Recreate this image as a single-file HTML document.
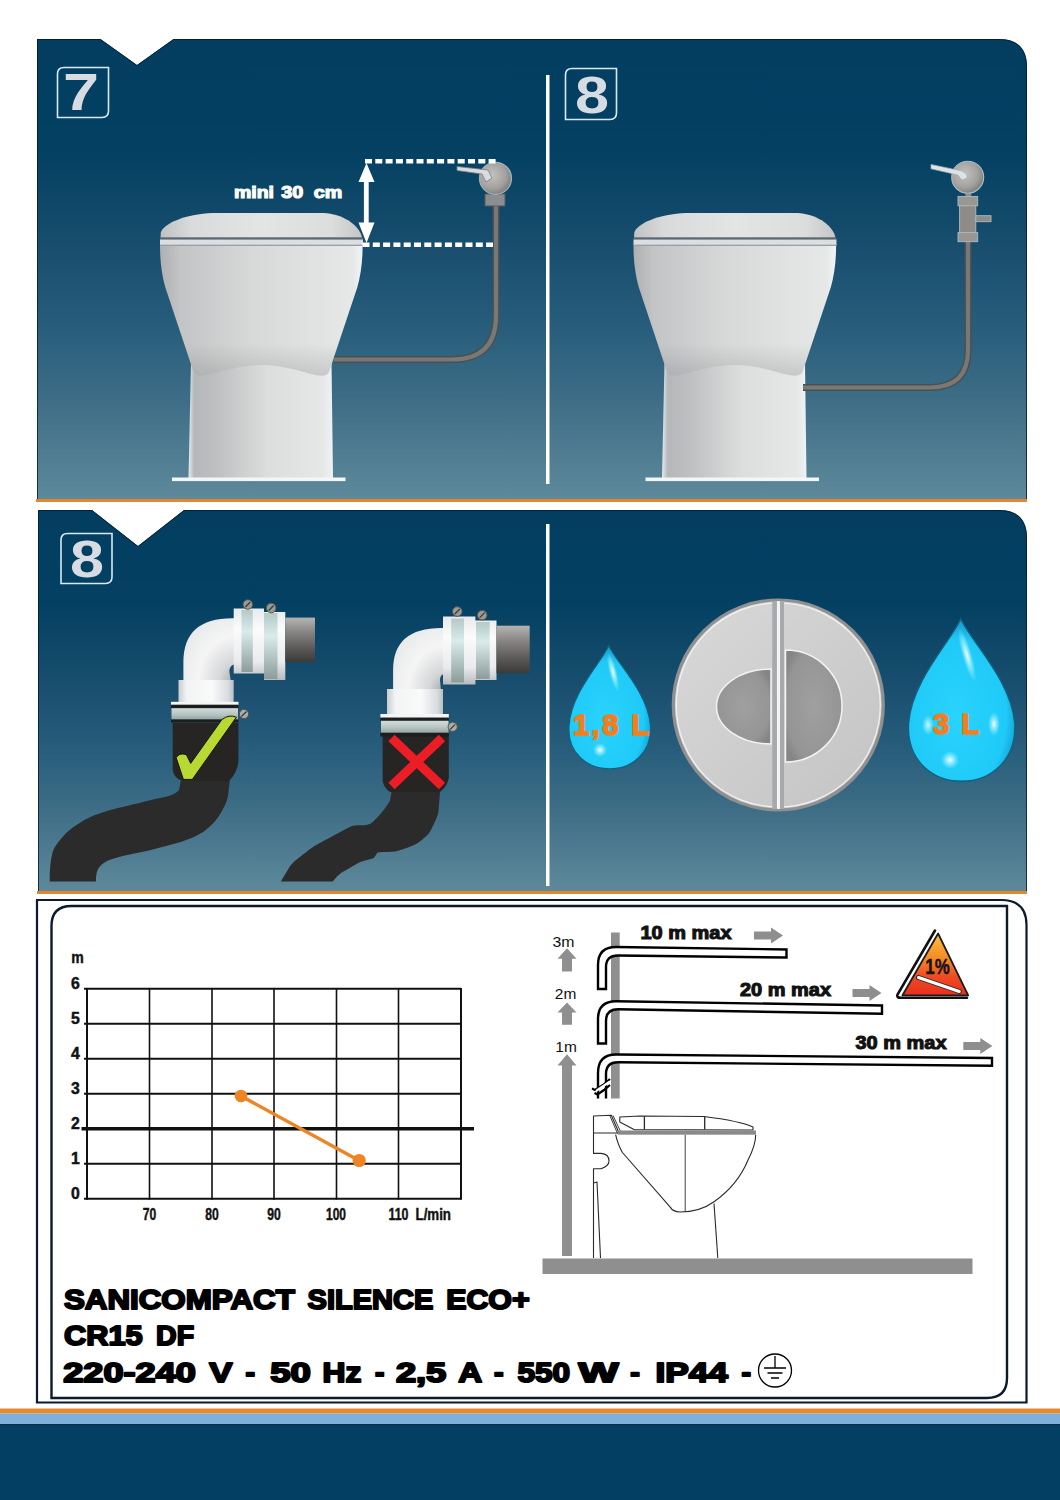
<!DOCTYPE html>
<html><head><meta charset="utf-8">
<style>
html,body{margin:0;padding:0;background:#fff;width:1060px;height:1500px;overflow:hidden}
svg{display:block;font-family:"Liberation Sans",sans-serif}
</style></head>
<body>
<svg width="1060" height="1500" viewBox="0 0 1060 1500">
<defs>
<linearGradient id="g1" x1="0" y1="39" x2="0" y2="499" gradientUnits="userSpaceOnUse">
<stop offset="0" stop-color="#033e61"/>
<stop offset="0.24" stop-color="#034062"/>
<stop offset="0.46" stop-color="#194e6e"/>
<stop offset="0.633" stop-color="#285e7c"/>
<stop offset="0.8" stop-color="#406f87"/>
<stop offset="1" stop-color="#5e899b"/>
</linearGradient>
<linearGradient id="g2" x1="0" y1="510" x2="0" y2="891" gradientUnits="userSpaceOnUse">
<stop offset="0" stop-color="#033e61"/>
<stop offset="0.24" stop-color="#034062"/>
<stop offset="0.46" stop-color="#194e6e"/>
<stop offset="0.633" stop-color="#285e7c"/>
<stop offset="0.8" stop-color="#406f87"/>
<stop offset="1" stop-color="#5e899b"/>
</linearGradient>

<linearGradient id="lidG" x1="0" y1="0" x2="1" y2="0">
<stop offset="0" stop-color="#bfc1c2"/><stop offset="0.15" stop-color="#d9dadb"/><stop offset="0.5" stop-color="#e3e4e4"/><stop offset="0.85" stop-color="#dcdddd"/><stop offset="1" stop-color="#c4c6c7"/>
</linearGradient>
<linearGradient id="bowlG" x1="0" y1="0" x2="1" y2="0">
<stop offset="0" stop-color="#aeb0b1"/><stop offset="0.1" stop-color="#c3c4c5"/><stop offset="0.45" stop-color="#d7d8d8"/><stop offset="0.8" stop-color="#e2e3e3"/><stop offset="0.95" stop-color="#e6e7e7"/><stop offset="1" stop-color="#f0f5f8"/>
</linearGradient>
<linearGradient id="pedG" x1="0" y1="0" x2="1" y2="0">
<stop offset="0" stop-color="#e4ecf0"/><stop offset="0.04" stop-color="#b5b7b8"/><stop offset="0.2" stop-color="#bfc0c1"/><stop offset="0.55" stop-color="#dcdddd"/><stop offset="0.93" stop-color="#e6e7e7"/><stop offset="1" stop-color="#eef3f6"/>
</linearGradient>
<linearGradient id="bowlShade" x1="0" y1="0" x2="0" y2="1">
<stop offset="0" stop-color="#000" stop-opacity="0"/><stop offset="0.75" stop-color="#000" stop-opacity="0"/><stop offset="1" stop-color="#000" stop-opacity="0.12"/>
</linearGradient>
<radialGradient id="valveG" cx="0.4" cy="0.4" r="0.6">
<stop offset="0" stop-color="#c2c2c0"/><stop offset="0.7" stop-color="#a3a19e"/><stop offset="1" stop-color="#85837f"/>
</radialGradient>
<g id="toilet">
<path d="M191,362 L331.5,362 L333,478 L188.5,478 Z" fill="url(#pedG)"/>
<path d="M160,246 L362.6,246 C362.6,262 360.6,276 357.4,287 L329.2,371.4 C324,384 298,365 261.3,365 C224,365 198,384 193.4,371.4 L165.2,287 C162,276 160,262 160,246 Z" fill="url(#bowlG)"/>
<path d="M160,246 L362.6,246 C362.6,262 360.6,276 357.4,287 L329.2,371.4 C324,384 298,365 261.3,365 C224,365 198,384 193.4,371.4 L165.2,287 C162,276 160,262 160,246 Z" fill="url(#bowlShade)"/>
<path d="M160.5,239 L160.8,232.5 C163,224 185,214 212.9,213 L323.6,213 C342,214 358,224 361.5,235.8 L362,239 Z" fill="url(#lidG)"/>
<rect x="160" y="237.3" width="203" height="2.2" fill="#60676c"/>
<rect x="160" y="239.5" width="203" height="6" fill="#dcdfe1"/>
<rect x="160" y="244.6" width="203" height="1.3" fill="#9ea4a8"/>
<rect x="172" y="477.5" width="173.5" height="3.6" fill="#f3f5f7"/>
</g>

<linearGradient id="whiteV" x1="0" y1="0" x2="1" y2="0">
<stop offset="0" stop-color="#c9cdd0"/><stop offset="0.15" stop-color="#f2f3f4"/><stop offset="0.6" stop-color="#fafafa"/><stop offset="0.9" stop-color="#d8dcdf"/><stop offset="1" stop-color="#b9bec2"/>
</linearGradient>
<linearGradient id="whiteH" x1="0" y1="0" x2="0" y2="1">
<stop offset="0" stop-color="#e8eaeb"/><stop offset="0.3" stop-color="#fbfbfb"/><stop offset="0.75" stop-color="#e9ebec"/><stop offset="1" stop-color="#b6bbbf"/>
</linearGradient>
<linearGradient id="stubG" x1="0" y1="0" x2="0" y2="1">
<stop offset="0" stop-color="#b4b4b2"/><stop offset="0.3" stop-color="#8a8886"/><stop offset="0.7" stop-color="#5a5856"/><stop offset="1" stop-color="#3c3a38"/>
</linearGradient>
<linearGradient id="bandG" x1="0" y1="0" x2="0" y2="1">
<stop offset="0" stop-color="#b5c9c9"/><stop offset="0.35" stop-color="#d9ebeb"/><stop offset="1" stop-color="#8c9c9a"/>
</linearGradient>
<linearGradient id="clampG" x1="0" y1="0" x2="0" y2="1">
<stop offset="0" stop-color="#d2dcda"/><stop offset="0.5" stop-color="#b9c8c5"/><stop offset="1" stop-color="#97a5a2"/>
</linearGradient>
<radialGradient id="dropG" cx="0.45" cy="0.6" r="0.6">
<stop offset="0" stop-color="#2ad3fd"/><stop offset="0.78" stop-color="#1fcaf8"/><stop offset="1" stop-color="#1199c9"/>
</radialGradient>
<radialGradient id="hl" cx="0.5" cy="0.5" r="0.5">
<stop offset="0" stop-color="#fff" stop-opacity="0.95"/><stop offset="1" stop-color="#bff" stop-opacity="0"/>
</radialGradient>
<linearGradient id="btnFace" x1="0" y1="0" x2="1" y2="1">
<stop offset="0" stop-color="#d9d9d9"/><stop offset="1" stop-color="#c3c3c3"/>
</linearGradient>
<radialGradient id="btnIn" cx="0.5" cy="0.5" r="0.6">
<stop offset="0" stop-color="#a0a0a0"/><stop offset="0.8" stop-color="#959595"/><stop offset="1" stop-color="#858585"/>
</radialGradient>

<linearGradient id="triG" x1="0" y1="0" x2="0" y2="1">
<stop offset="0" stop-color="#fbc23a"/><stop offset="0.4" stop-color="#f58a26"/><stop offset="0.7" stop-color="#ef4a22"/><stop offset="1" stop-color="#e8301e"/>
</linearGradient>
<g id="rarrow"><path d="M0,4 H17 V0 L29,8 L17,16 V12 H0 Z" fill="#8e8e8e"/></g>
<radialGradient id="elbG" cx="1" cy="1" r="1.2">
<stop offset="0" stop-color="#9fa3a6"/><stop offset="0.25" stop-color="#d4d6d7"/><stop offset="0.6" stop-color="#f5f5f5"/><stop offset="1" stop-color="#e6e8e9"/>
</radialGradient>
</defs>
<rect width="1060" height="1500" fill="#fff"/>
<!-- panel 1 -->
<path d="M37,39 L100.5,39 L137,65 L173.5,39 L999,39 Q1027,39 1027,67 L1027,499 L37,499 Z" fill="url(#g1)"/>
<path d="M37.5,499 V39.5 L100.5,39.5 L137,65.5 L173.5,39.5 L999,39.5 Q1026.5,39.5 1026.5,67 V499" fill="none" stroke="#021a30" stroke-width="1" opacity="0.8"/>
<rect x="36" y="499" width="991" height="3" fill="#e3862e"/>
<rect x="546" y="75" width="3.5" height="409" fill="#fff"/>
<!-- panel 2 -->
<path d="M38,510 L92,510 L138,546 L184,510 L999,510 Q1027,510 1027,538 L1027,891 L38,891 Z" fill="url(#g2)"/>
<path d="M38.5,891 V510.5 L92,510.5 L138,546.5 L184,510.5 L999,510.5 Q1026.5,510.5 1026.5,538 V891" fill="none" stroke="#021a30" stroke-width="1" opacity="0.8"/>
<rect x="37" y="891" width="990" height="3" fill="#e3862e"/>
<rect x="546" y="524" width="3.5" height="362" fill="#fff"/>
<!-- number boxes -->
<g fill="none" stroke="#d9e9f2" stroke-width="1.6">
<path d="M57.5,117.5 L57.5,74 Q57.5,67.5 64,67.5 L108.5,67.5 L108.5,111 Q108.5,117.5 102,117.5 Z"/>
<path d="M565.5,119.5 L565.5,75 Q565.5,68.5 572,68.5 L616.5,68.5 L616.5,113 Q616.5,119.5 610,119.5 Z"/>
<path d="M61,583.5 L61,540 Q61,533.5 67.5,533.5 L112,533.5 L112,577 Q112,583.5 105.5,583.5 Z"/>
</g>
<g fill="#d6dce1" font-weight="bold" font-size="52">
<text x="63" y="110" textLength="36" lengthAdjust="spacingAndGlyphs">7</text>
<text x="575" y="112.5" textLength="34" lengthAdjust="spacingAndGlyphs">8</text>
<text x="70" y="576.5" textLength="34" lengthAdjust="spacingAndGlyphs">8</text>
</g>
<!-- bottom box -->
<path d="M37,900 L1001,900 Q1026.5,900 1026.5,925 L1026.5,1402.5 L37,1402.5 Z" fill="#fff" stroke="#0b1a2c" stroke-width="2.2"/>
<path d="M51.5,1398 L51.5,926 Q51.5,906 71.5,906 L1007,906 L1007,1378 Q1007,1398 987,1398 Z" fill="#fff" stroke="#0b1a2c" stroke-width="2.4"/>
<!-- panel1 content -->
<use href="#toilet"/>
<use href="#toilet" transform="translate(473.5,0)"/>
<!-- pipe 1 -->
<path d="M334,359.5 L452,359.5 Q496,359.5 496,316 L496,204" fill="none" stroke="#4a4f52" stroke-width="7"/>
<path d="M334,359.5 L452,359.5 Q496,359.5 496,316 L496,204" fill="none" stroke="#7a7875" stroke-width="4.2"/>
<rect x="485" y="194" width="20" height="12" fill="#8b8e90" stroke="#55585a" stroke-width="1"/>
<circle cx="495.5" cy="178.3" r="16" fill="url(#valveG)" stroke="#9fb3bd" stroke-width="1.2"/>
<path d="M457,166.5 L488,170 L492,178 L486,182 L482,174 L457,170.5 Z" fill="#d9dbdc" stroke="#7b7e80" stroke-width="0.8"/>
<!-- dashed + arrow -->
<g stroke="#fff" stroke-width="3.2" fill="none">
<path d="M365,161.3 H497" stroke-width="4.4" stroke-dasharray="7,3.3"/>
<path d="M362.5,244.8 H493" stroke-width="4.4" stroke-dasharray="7,3.3"/>
<path d="M366.3,180 V225" stroke-width="4.8"/>
</g>
<path d="M366.5,163 L358.5,182 L374.5,182 Z M366.5,243 L358.5,222.5 L374.5,222.5 Z" fill="#fff"/>
<g fill="#fff" stroke="#fff" stroke-width="1.1" font-weight="bold" font-size="16.5">
<text x="234" y="198.3" textLength="40" lengthAdjust="spacingAndGlyphs">mini</text>
<text x="281.3" y="198.3" textLength="22" lengthAdjust="spacingAndGlyphs">30</text>
<text x="313.8" y="198.3" textLength="28.5" lengthAdjust="spacingAndGlyphs">cm</text>
</g>
<!-- pipe 2 -->
<path d="M803,387.5 L930,387.5 Q968,387.5 968,350 L968,238" fill="none" stroke="#4a4f52" stroke-width="7"/>
<path d="M803,387.5 L930,387.5 Q968,387.5 968,350 L968,238" fill="none" stroke="#7a7875" stroke-width="4.2"/>
<rect x="965.3" y="192" width="6" height="6" fill="#8f8b87"/>
<rect x="959.6" y="205" width="16.2" height="28" fill="#8f8b87" stroke="#a9bcc6" stroke-width="0.9"/>
<rect x="958" y="196.4" width="19.7" height="9.4" fill="#9a9692" stroke="#a9bcc6" stroke-width="0.9"/>
<rect x="958" y="232.6" width="19.7" height="9.1" fill="#9a9692" stroke="#a9bcc6" stroke-width="0.9"/>
<rect x="975.8" y="215.7" width="15.2" height="6" fill="#8f8b87" stroke="#a9bcc6" stroke-width="0.9"/>
<circle cx="967.7" cy="177.2" r="16" fill="url(#valveG)" stroke="#a9bcc6" stroke-width="1.1"/>
<path d="M931,164.5 L962,171 Q968,174 967,178 L962,180 L958,175 L931,168.8 Z" fill="#dfe3e4" stroke="#9fb0b8" stroke-width="0.7"/>
<!-- panel2 content -->
<!-- elbow 1 -->
<g>
<path d="M180.8,780.8 L179,790.2 C175,794 171,795.5 165.8,796.8 C150,800 140,803 129.9,805.3 C118,808 110,810 101.6,812.8 C92,816 86,819 80.8,822.3 C73,827 68,831 63.9,835.5 C57,843 54,848 52.5,852.5 C50,862 49.7,872 49.7,881.5 L95.9,881.5 C95.9,876 96.5,872 97.8,869.4 C101,864 105,862 109.2,860 C120,856 130,854.5 139.3,852.5 C152,850 165,846 177,843 C188,840 196,836 203.5,831.7 C210,827 215,822 218.6,816.6 C224,808 227,802 228,795.8 L229.9,778.9 Z" fill="#2b2b2b"/>
<path d="M172.7,723 L238.4,723 L238.4,762 Q237,773 229,781 L182,781 Q174,778 172.7,770 Z" fill="#262524"/>
<path d="M183.4,682 L183.4,662 Q183.4,618.3 232.3,618.3 L236,618.3 L236,664.3 Q229.4,664.3 229.4,672 L231,682 Z" fill="url(#elbG)"/>
<rect x="178.5" y="680" width="55.2" height="23" fill="url(#whiteV)"/>
<path d="M233.7,608.4 H264 V612 H285.3 V680 H264 V673.5 H233.7 Z" fill="url(#whiteH)"/>
<rect x="241.5" y="610" width="11.3" height="62" fill="url(#bandG)"/>
<rect x="264" y="613" width="13.5" height="66" fill="url(#bandG)"/>
<rect x="285.3" y="617.6" width="29.7" height="44.6" fill="url(#stubG)"/>
<circle cx="247.8" cy="604.5" r="4.8" fill="#9a9a94" stroke="#55554f" stroke-width="1"/><path d="M245.3,607.0 L250.3,602.0" stroke="#3a3a36" stroke-width="1.2"/>
<circle cx="271.2" cy="608" r="4.8" fill="#9a9a94" stroke="#55554f" stroke-width="1"/><path d="M268.7,610.5 L273.7,605.5" stroke="#3a3a36" stroke-width="1.2"/>
<rect x="171" y="701.8" width="67.5" height="3.2" fill="#f4f5f5"/>
<rect x="171" y="704.7" width="67.5" height="3.5" fill="#1d1d1d"/>
<rect x="171.5" y="708.2" width="66.5" height="11.3" fill="url(#clampG)"/>
<rect x="171" y="719.5" width="67.5" height="3" fill="#1d1d1d"/>
<circle cx="244" cy="714" r="4.6" fill="#a9aca8" stroke="#55554f" stroke-width="1"/><path d="M241.5,716.5 L246.5,711.5" stroke="#3a3a36" stroke-width="1.2"/>
<path d="M176.2,757.7 Q179,752.5 186.3,754.5 L190.7,763.4 L221.9,719.6 Q229,714 236.4,717.2 L192.3,779.4 L183.4,779.4 Z" fill="#b8d832" stroke="#151515" stroke-width="1"/>
</g>
<!-- elbow 2 -->
<g>
<path d="M391.9,789.7 L390,800.5 C386,808 376,820 370.4,823.8 C365,826 358,825 354.2,825.6 C350,826.5 348,828 345.3,829.2 L329.2,838.1 C318,844 312,847 305.8,852.5 C298,858 293,862 289.7,866.8 L280.8,881.5 L332.7,881.5 C337,876 340,873 345.3,870.4 L357.8,863.2 C365,860 370,860 374,857.8 L377.5,852.5 C385,852 390,852 395.5,851.6 C405,849 412,846 417,843.5 C425,838 430,833 431.3,829.2 C436,820 438,815 438.5,811.2 L440.3,788 Z" fill="#2b2b2b"/>
<path d="M382.6,734 L448.8,734 L448.8,778 Q447,787 440,792 L390,792 Q384,788 382.6,781 Z" fill="#262524"/>
<path d="M393.1,691 L393.1,670 Q393.1,628 441.4,628 L445,628 L445,674 Q440,674 440,680 L441,691 Z" fill="url(#elbG)"/>
<rect x="387" y="689" width="56" height="25.5" fill="url(#whiteV)"/>
<path d="M443,616.6 H475.4 V620.4 H496.5 V680 H475.4 V684.5 H443 Z" fill="url(#whiteH)"/>
<rect x="451.2" y="618.5" width="12.8" height="64" fill="url(#bandG)"/>
<rect x="476" y="622" width="13.7" height="57" fill="url(#bandG)"/>
<rect x="496.5" y="625.7" width="33.2" height="47.5" fill="url(#stubG)"/>
<circle cx="457.3" cy="611.5" r="4.8" fill="#9a9a94" stroke="#55554f" stroke-width="1"/><path d="M454.8,614.0 L459.8,609.0" stroke="#3a3a36" stroke-width="1.2"/>
<circle cx="482.2" cy="615.2" r="4.8" fill="#9a9a94" stroke="#55554f" stroke-width="1"/><path d="M479.7,617.7 L484.7,612.7" stroke="#3a3a36" stroke-width="1.2"/>
<rect x="380.4" y="714" width="68.4" height="3.7" fill="#f4f5f5"/>
<rect x="380.4" y="717.7" width="68.4" height="3.1" fill="#1d1d1d"/>
<rect x="381" y="720.8" width="67.5" height="12" fill="url(#clampG)"/>
<rect x="380.4" y="732.8" width="68.4" height="3.8" fill="#1d1d1d"/>
<circle cx="452.7" cy="726.8" r="4.6" fill="#a9aca8" stroke="#55554f" stroke-width="1"/><path d="M450.2,729.3 L455.2,724.3" stroke="#3a3a36" stroke-width="1.2"/>
<path d="M391.5,738 L442,786 M442,738 L391.5,786" stroke="#ed1d25" stroke-width="9"/>
</g>
<!-- drops -->
<g>
<path d="M608.7,645.5 C602,662 571,692 569,725.8 C567,753 587,768.9 609.8,768.9 C632,768.9 652,753 650.6,725.8 C648,692 616,662 608.7,645.5 Z" fill="url(#dropG)" stroke="#15607f" stroke-width="1.3"/>
<ellipse cx="613" cy="672" rx="4" ry="20" fill="url(#hl)" transform="rotate(-14 613 672)"/>
<circle cx="600" cy="750" r="7" fill="url(#hl)"/>
<text x="573" y="735" fill="#f27e20" stroke="#f27e20" stroke-width="1.6" font-weight="bold" font-size="29" textLength="76" lengthAdjust="spacing">1,8 L</text>
</g>
<g>
<path d="M960.7,618.7 C952,640 912,680 908.7,722.7 C906,760 932,781.3 961.7,781.3 C991,781.3 1017,760 1014.7,722.7 C1011,680 970,640 960.7,618.7 Z" fill="url(#dropG)" stroke="#15607f" stroke-width="1.4"/>
<ellipse cx="967" cy="655" rx="5" ry="28" fill="url(#hl)" transform="rotate(-16 967 655)"/>
<circle cx="950" cy="760" r="9" fill="url(#hl)"/>
<ellipse cx="994" cy="724" rx="6" ry="12" fill="url(#hl)"/>
<ellipse cx="928" cy="725" rx="6" ry="10" fill="url(#hl)" opacity="0.85"/>
<text x="933" y="734" fill="#f27e20" stroke="#f27e20" stroke-width="1.6" font-weight="bold" font-size="29" textLength="46" lengthAdjust="spacing">3 L</text>
</g>
<!-- flush button -->
<g>
<circle cx="778.3" cy="705" r="105" fill="url(#btnFace)" stroke="#8e9092" stroke-width="3.2"/>
<circle cx="778.3" cy="705" r="102" fill="none" stroke="#f2f2f2" stroke-width="1.2"/>
<path d="M771,669 C740,669 716.5,686 716.5,706.5 C716.5,727 740,744 771,744 Z" fill="url(#btnIn)" stroke="#f3f3f3" stroke-width="1.5"/>
<path d="M785.5,650 C817,650 842,675 842,706 C842,737 817,762 785.5,762 Z" fill="url(#btnIn)" stroke="#f3f3f3" stroke-width="1.5"/>
<rect x="772.3" y="601" width="4.6" height="208" fill="#a7a9ab"/>
<rect x="777" y="601" width="3" height="208" fill="#f4f4f4"/>
<rect x="780" y="601" width="4" height="208" fill="#a7a9ab"/>
</g>
<!-- chart -->
<g stroke="#111" fill="none">
<path d="M84,988.8 H461" stroke-width="1.9"/>
<path d="M84,1023.8 H461" stroke-width="1.9"/>
<path d="M84,1058.8 H461" stroke-width="1.9"/>
<path d="M84,1093.8 H461" stroke-width="1.9"/>
<path d="M84,1163.8 H461" stroke-width="1.9"/>
<path d="M84,1198.8 H461" stroke-width="1.9"/>
<path d="M81.5,1128.8 H474" stroke-width="3.6"/>
<path d="M87,988 V1199.7" stroke-width="2"/>
<path d="M149.5,988 V1199.7" stroke-width="1.6"/>
<path d="M212,988 V1199.7" stroke-width="1.6"/>
<path d="M274,988 V1199.7" stroke-width="1.6"/>
<path d="M336.5,988 V1199.7" stroke-width="1.6"/>
<path d="M398.5,988 V1199.7" stroke-width="1.6"/>
<path d="M461,988 V1199.7" stroke-width="2"/>
</g>
<g fill="#111" stroke="#111" stroke-width="0.45" font-weight="bold" font-size="16.3">
<text x="71.3" y="963" font-size="16.5" textLength="12.5" lengthAdjust="spacingAndGlyphs">m</text>
<text x="71" y="988.5999999999999" textLength="8.8" lengthAdjust="spacingAndGlyphs">6</text>
<text x="71" y="1023.5999999999999" textLength="8.8" lengthAdjust="spacingAndGlyphs">5</text>
<text x="71" y="1058.6" textLength="8.8" lengthAdjust="spacingAndGlyphs">4</text>
<text x="71" y="1093.6" textLength="8.8" lengthAdjust="spacingAndGlyphs">3</text>
<text x="71" y="1128.6" textLength="8.8" lengthAdjust="spacingAndGlyphs">2</text>
<text x="71" y="1163.6" textLength="8.8" lengthAdjust="spacingAndGlyphs">1</text>
<text x="71" y="1198.6" textLength="8.8" lengthAdjust="spacingAndGlyphs">0</text>
<text x="142.75" y="1220" textLength="13.5" lengthAdjust="spacingAndGlyphs">70</text>
<text x="205.25" y="1220" textLength="13.5" lengthAdjust="spacingAndGlyphs">80</text>
<text x="267.25" y="1220" textLength="13.5" lengthAdjust="spacingAndGlyphs">90</text>
<text x="326.0" y="1220" textLength="20" lengthAdjust="spacingAndGlyphs">100</text>
<text x="388.5" y="1220" textLength="20" lengthAdjust="spacingAndGlyphs">110</text>
<text x="415.5" y="1220" textLength="35.5" lengthAdjust="spacingAndGlyphs">L/min</text>
</g>
<path d="M241,1096 L359,1160.5" stroke="#ee8524" stroke-width="3.4"/>
<circle cx="241" cy="1096" r="6.3" fill="#ee8524"/><circle cx="359.2" cy="1160.5" r="6.6" fill="#ee8524"/>
<!-- pipe diagram -->
<rect x="542.5" y="1258.5" width="430" height="15.5" fill="#8f8f8f"/>
<rect x="611" y="932.5" width="8.7" height="166" fill="#8f8f8f"/>
<path d="M562,1256 V1065.5 H557.5 L567,1054.2 L576.5,1065.5 H572 V1256 Z" fill="#8f8f8f"/>
<path d="M562,1024.7 V1012.5 H557.5 L567,1002.5 L576.5,1012.5 H572 V1024.7 Z" fill="#8f8f8f"/>
<path d="M562,971.5 V958.8 H557.5 L567,948.2 L576.5,958.8 H572 V971.5 Z" fill="#8f8f8f"/>
<g fill="#111" font-size="14">
<text x="552.5" y="946.5" textLength="22" lengthAdjust="spacingAndGlyphs">3m</text>
<text x="554.8" y="998.5" textLength="21.5" lengthAdjust="spacingAndGlyphs">2m</text>
<text x="555.3" y="1052" textLength="21.5" lengthAdjust="spacingAndGlyphs">1m</text>
</g>
<g fill="#fff" stroke="#000" stroke-width="2.4">
<path d="M598,989 V965 Q598,947 616,947 L786.5,949.5 V957.5 L618,955.5 Q606,955.5 606,967 V989 Z"/>
<path d="M598,1043.5 V1019 Q598,1001.2 616,1001.2 L882,1005.5 V1013.8 L618,1009.3 Q606,1009.3 606,1021 V1043.5 Z"/>
<path d="M598,1098.5 V1073 Q598,1054.5 616,1054.5 L992,1058 V1065.8 L618,1062.2 Q606,1062.2 606,1074 V1098.5"/>
</g>
<path d="M592,1088.5 L595,1090 L603,1085 L610,1079" stroke="#000" stroke-width="2.2" fill="none"/>
<path d="M594.5,1093 L597.5,1094.5 L604,1090 L610,1085" stroke="#000" stroke-width="2.2" fill="none"/>
<path d="M596,1091 L610,1081.5" stroke="#fff" stroke-width="2.2"/>
<g fill="#111" stroke="#111" stroke-width="1" font-weight="bold" font-size="17.5">
<text x="640.5" y="938.5" textLength="91" lengthAdjust="spacingAndGlyphs">10 m  max</text>
<text x="740" y="996" textLength="91" lengthAdjust="spacingAndGlyphs">20 m  max</text>
<text x="855.5" y="1049" textLength="91" lengthAdjust="spacingAndGlyphs">30 m  max</text>
</g>
<use href="#rarrow" transform="translate(754,927.5)"/>
<use href="#rarrow" transform="translate(852.5,985)"/>
<use href="#rarrow" transform="translate(963.3,1038)"/>
<path d="M935,930.5 L897.5,994.5 Q896,997.8 901,997.8 L967,997.8" fill="none" stroke="#111" stroke-width="2.6" stroke-linecap="round"/>
<path d="M938.1,933.5 L902.5,995.3 L968.2,995.3 Z" fill="url(#triG)" stroke="#1c1c1c" stroke-width="1.8" stroke-linejoin="round"/>
<path d="M918.5,977.5 L959.3,991.5" stroke="#2a2a2a" stroke-width="5" stroke-linecap="round"/>
<path d="M918.5,977.5 L959.3,991.5" stroke="#fff" stroke-width="3" stroke-linecap="round"/>
<text x="925.3" y="974.3" fill="#151515" stroke="#151515" stroke-width="0.5" font-weight="bold" font-size="22.5" textLength="24.4" lengthAdjust="spacingAndGlyphs">1%</text>
<!-- line toilet -->
<g fill="none" stroke="#2a2a2a" stroke-width="1.1" stroke-linejoin="round">
<path d="M593.5,1258 V1168.7 L601,1168.7 Q609,1166 609,1161 Q609,1154 601,1153.4 L593.5,1153.4 V1116 L611.3,1115.3 L619,1133 L593.5,1133"/>
<path d="M610,1116 L617.5,1133.5 M613,1115.5 L621,1132.5" stroke-width="0.9"/>
<path d="M593.5,1183 L597,1182 L600.5,1258"/>
<path d="M619.8,1117 L640,1116 L704,1116.5 Q740,1121 753,1127 L753,1130 L634,1129.6 L619.8,1122 Z"/>
<path d="M644.4,1116.3 V1129.6 M704.7,1116.8 V1129.6" stroke-width="1.3"/>
<path d="M615.6,1134.7 Q618,1145 622.4,1152.5 L670,1206.9 Q673,1212 680,1212 Q700,1212 714,1201.8 Q737.8,1185 748,1160 Q755.7,1145 755.7,1134.7"/>
<path d="M685.2,1134.7 V1211" stroke-width="0.9"/>
<path d="M714,1203.5 L717.8,1258"/>
</g>
<rect x="618" y="1130.5" width="138" height="4.2" fill="#8a8a8a"/>
<!-- product text -->
<g fill="#000" stroke="#000" stroke-width="2" stroke-linejoin="round" font-weight="bold" font-size="28.3">
<text x="63.9" y="1309" textLength="230.9" lengthAdjust="spacingAndGlyphs">SANICOMPACT</text>
<text x="307.6" y="1309" textLength="125.8" lengthAdjust="spacingAndGlyphs">SILENCE</text>
<text x="446.20000000000005" y="1309" textLength="83.5" lengthAdjust="spacingAndGlyphs">ECO+</text>
<text x="64.1" y="1345" textLength="78.5" lengthAdjust="spacingAndGlyphs">CR15</text>
<text x="156.1" y="1345" textLength="38.0" lengthAdjust="spacingAndGlyphs">DF</text>
<text x="63.300000000000004" y="1381.8" textLength="132.5" lengthAdjust="spacingAndGlyphs">220-240</text>
<text x="209.2" y="1381.8" textLength="23.2" lengthAdjust="spacingAndGlyphs">V</text>
<text x="245.6" y="1381.8" textLength="9.5" lengthAdjust="spacingAndGlyphs">-</text>
<text x="270.3" y="1381.8" textLength="40.6" lengthAdjust="spacingAndGlyphs">50</text>
<text x="322.6" y="1381.8" textLength="38.8" lengthAdjust="spacingAndGlyphs">Hz</text>
<text x="375.0" y="1381.8" textLength="9.4" lengthAdjust="spacingAndGlyphs">-</text>
<text x="395.90000000000003" y="1381.8" textLength="50.4" lengthAdjust="spacingAndGlyphs">2,5</text>
<text x="458.20000000000005" y="1381.8" textLength="23.9" lengthAdjust="spacingAndGlyphs">A</text>
<text x="494.1" y="1381.8" textLength="9.6" lengthAdjust="spacingAndGlyphs">-</text>
<text x="517.4" y="1381.8" textLength="52.6" lengthAdjust="spacingAndGlyphs">550</text>
<text x="578.4" y="1381.8" textLength="40.0" lengthAdjust="spacingAndGlyphs">W</text>
<text x="630.3000000000001" y="1381.8" textLength="9.6" lengthAdjust="spacingAndGlyphs">-</text>
<text x="655.4" y="1381.8" textLength="72.4" lengthAdjust="spacingAndGlyphs">IP44</text>
<text x="741.6" y="1381.8" textLength="9.5" lengthAdjust="spacingAndGlyphs">-</text>
</g>
<g fill="none" stroke="#000" stroke-width="1.3">
<circle cx="775" cy="1370.5" r="16.5"/>
<path d="M775,1356 V1368 M764,1368 H786 M767.5,1373 H782.5 M771,1378 H779"/>
</g>
<!-- bottom bands -->
<rect x="0" y="1408.5" width="1060" height="5" fill="#e88a2c"/>
<rect x="0" y="1413.5" width="1060" height="10.5" fill="#7db1dc"/>
<rect x="0" y="1424" width="1060" height="76" fill="#033f63"/>
<rect x="0" y="1424" width="1060" height="1" fill="#0a2a45"/>
</svg>
</body></html>
